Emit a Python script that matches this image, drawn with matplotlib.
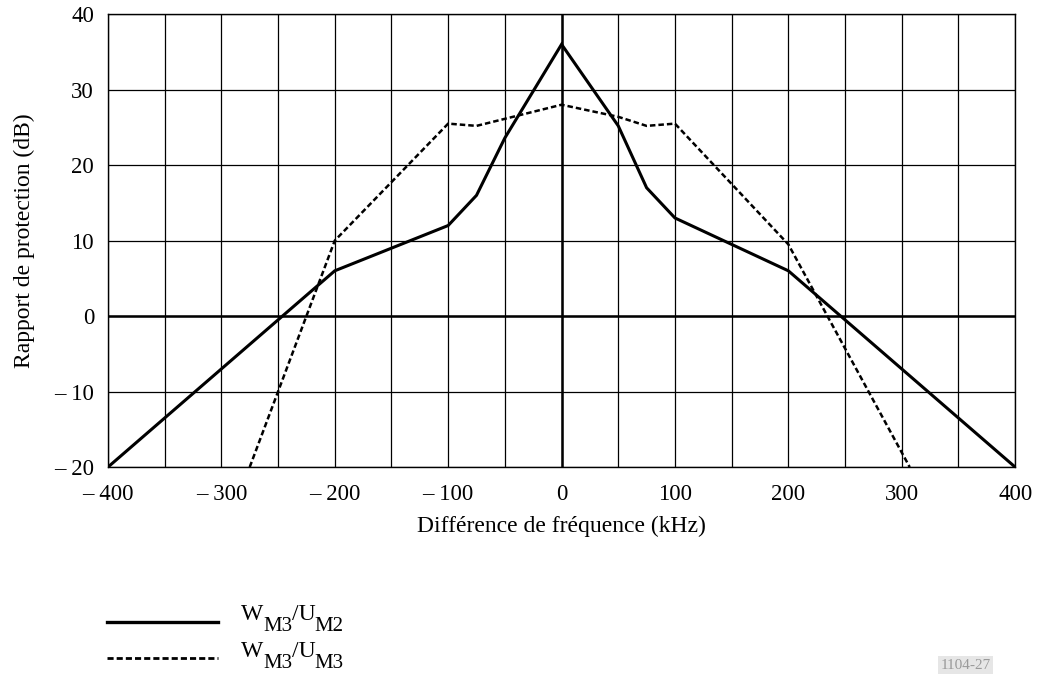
import numpy as np
import matplotlib
matplotlib.use("Agg")
import matplotlib.pyplot as plt
from matplotlib.lines import Line2D

plt.rcParams['font.family'] = ['Liberation Serif', 'DejaVu Serif']

# W_M3/U_M2 (solid)
freq_m2 = [-400, -200, -100, -75, -50, 0, 50, 75, 100, 200, 400]
prot_m2 = [-20, 6, 12, 16, 23.6, 36, 25.2, 17, 13, 6, -20]

# W_M3/U_M3 (dashed)
freq_m3 = [-275, -200, -100, -75, 0, 50, 75, 100, 200, 307]
prot_m3 = [-20, 10, 25.5, 25.2, 28, 26.4, 25.2, 25.5, 9.5, -20]

xticks = [-400, -300, -200, -100, 0, 100, 200, 300, 400]
yticks = [-20, -10, 0, 10, 20, 30, 40]
legend_parts = [
    [("W", False), ("M3", True), ("/U", False), ("M2", True)],
    [("W", False), ("M3", True), ("/U", False), ("M3", True)],
]


def fmt(v):
    return "\u2013 %d" % abs(v) if v < 0 else "%d" % v


W, H = 1038, 674
fig = plt.figure(figsize=(W / 100, H / 100), dpi=100)
ax = fig.add_axes([0.104, 0.307, 0.874, 0.672])

ax.set_xlim(-400, 400)
ax.set_ylim(-20, 40)
grid_x = np.arange(-400, 401, 50)
ax.set_xticks(grid_x)
ax.set_xticklabels([fmt(v) if v in xticks else "" for v in grid_x])
ax.set_yticks(yticks)
ax.set_yticklabels([fmt(v) for v in yticks])
ax.tick_params(axis='x', length=0, labelsize=16.5, pad=12)
ax.tick_params(axis='y', length=0, labelsize=16.5, pad=10)
ax.grid(True, color='black', linewidth=0.9)
ax.axhline(0, color='black', linewidth=1.8)
ax.axvline(0, color='black', linewidth=1.8)
for s in ax.spines.values():
    s.set_linewidth(1.0)

ax.plot(freq_m2, prot_m2, color='black', linewidth=2.2, solid_joinstyle='miter')
ax.plot(freq_m3, prot_m3, color='black', linewidth=1.8, linestyle=(0, (2.2, 1.2)))

ax.set_xlabel("Différence de fréquence (kHz)", fontsize=17, labelpad=8)
ax.set_ylabel("Rapport de protection (dB)", fontsize=17, labelpad=14)

# legend drawn beneath the chart
fig.add_artist(Line2D([107 / W, 218 / W], [1 - 622 / H] * 2, color='black', linewidth=2.4))
fig.add_artist(Line2D([107 / W, 218 / W], [1 - 658 / H] * 2, color='black', linewidth=2.0,
                      linestyle=(0, (2.2, 1.1))))

renderer = fig.canvas.get_renderer()
for parts, base in zip(legend_parts, [620, 657]):
    x = 241
    for s, sub in parts:
        y = base + 11 if sub else base
        t = fig.text(x / W, 1 - y / H, s, fontsize=15 if sub else 17, va='baseline')
        x = t.get_window_extent(renderer).x1 - (2 if s == "/U" else 0)

fig.text(0.906, 0.003, "1104-27", fontsize=11, color='#9a9a9a', va='bottom',
         bbox=dict(facecolor='#e6e6e6', edgecolor='none', pad=2))

fig.savefig("out.png", dpi=100)
